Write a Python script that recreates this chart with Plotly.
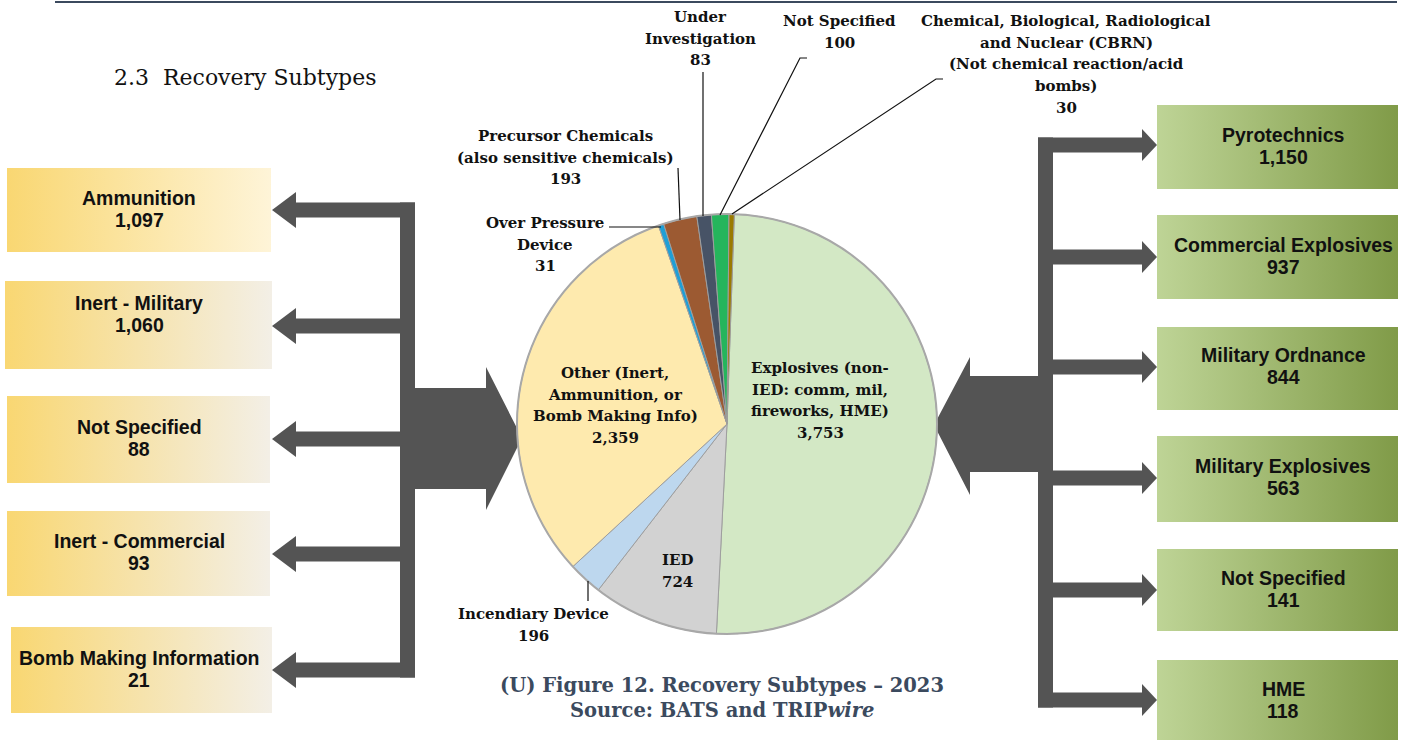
import plotly.graph_objects as go

# ---------------- data ----------------
pie_labels = [
    "Explosives (non-IED: comm, mil, fireworks, HME)",
    "IED",
    "Incendiary Device",
    "Other (Inert, Ammunition, or Bomb Making Info)",
    "Over Pressure Device",
    "Precursor Chemicals (also sensitive chemicals)",
    "Under Investigation",
    "Not Specified",
    "Chemical, Biological, Radiological and Nuclear (CBRN) (Not chemical reaction/acid bombs)",
]
pie_values = [3753, 724, 196, 2359, 31, 193, 83, 100, 30]
pie_label_lines = [
    ["Explosives (non-", "IED: comm, mil,", "fireworks, HME)"],
    ["IED"],
    ["Incendiary Device"],
    ["Other (Inert,", "Ammunition, or", "Bomb Making Info)"],
    ["Over Pressure", "Device"],
    ["Precursor Chemicals", "(also sensitive chemicals)"],
    ["Under", "Investigation"],
    ["Not Specified"],
    ["Chemical, Biological, Radiological", "and Nuclear (CBRN)",
     "(Not chemical reaction/acid", "bombs)"],
]
pie_colors = ["#d3e8c5", "#d2d2d2", "#bdd7ee", "#feeaae", "#1f9fd6",
              "#9c5a32", "#475366", "#25b55c", "#9a7a00"]

left_labels = ["Ammunition", "Inert - Military", "Not Specified",
               "Inert - Commercial", "Bomb Making Information"]
left_values = [1097, 1060, 88, 93, 21]

right_labels = ["Pyrotechnics", "Commercial Explosives", "Military Ordnance",
                "Military Explosives", "Not Specified", "HME"]
right_values = [1150, 937, 844, 563, 141, 118]

title_text = "2.3  Recovery Subtypes"
caption_lines = ["(U) Figure 12. Recovery Subtypes \u2013 2023",
                 "Source: BATS and TRIP<i>wire</i>"]

# ---------------- layout constants ----------------
W, H = 1416, 740
PCX, PCY, PR = 727, 424, 210
SERIF = "DejaVu Serif"
SANS = "Liberation Sans"
ARROW = "#545454"
NAVY = "#3b4a5e"

fig = go.Figure()

# left boxes
left_boxes = [(7, 271, 168, 252), (5, 272, 281, 369), (7, 270, 396, 483),
              (7, 270, 511, 596), (11, 272, 627, 713)]
left_text_y = [198, 303, 427, 541, 658]
for i, (x0, x1, y0, y1) in enumerate(left_boxes):
    right_c = "#fef4d8" if i == 0 else "#f3efe6"
    fig.add_trace(go.Scatter(
        x=[x0, x1, x1, x0, x0], y=[y0, y0, y1, y1, y0], mode="lines",
        fill="toself", line=dict(width=0),
        fillgradient=dict(type="horizontal",
                          colorscale=[[0, "#f9d772"], [1, right_c]]),
        hoverinfo="skip", showlegend=False))

# right boxes
right_boxes = [(105, 189), (215, 299), (327, 410), (436, 522), (549, 631), (660, 742)]
right_text_y = [135, 245, 355, 466, 578, 689]
for (y0, y1) in right_boxes:
    x0, x1 = 1157, 1398
    fig.add_trace(go.Scatter(
        x=[x0, x1, x1, x0, x0], y=[y0, y0, y1, y1, y0], mode="lines",
        fill="toself", line=dict(width=0),
        fillgradient=dict(type="horizontal",
                          colorscale=[[0, "#bed496"], [1, "#809b48"]]),
        hoverinfo="skip", showlegend=False))

# pie
fig.add_trace(go.Pie(
    labels=pie_labels, values=pie_values, sort=False, direction="clockwise",
    rotation=2, textinfo="none", showlegend=False,
    marker=dict(colors=pie_colors, line=dict(color="#9e9e9e", width=1)),
    domain=dict(x=[(PCX - PR) / W, (PCX + PR) / W],
                y=[(H - PCY - PR) / H, (H - PCY + PR) / H]),
    hoverinfo="label+value"))

shapes = []
# ---- left arrows ----
left_arrow_y = [210, 326, 439, 554, 670]
for cy in left_arrow_y:
    shapes.append(dict(type="path", layer="below", fillcolor=ARROW, line=dict(width=0),
                       xref="x", yref="y",
                       path=f"M 415 {cy-7.5} L 296 {cy-7.5} L 296 {cy-18} L 272 {cy} "
                            f"L 296 {cy+18} L 296 {cy+7.5} L 415 {cy+7.5} Z"))
shapes.append(dict(type="rect", layer="below", fillcolor=ARROW, line=dict(width=0),
                   xref="x", yref="y", x0=400, x1=415, y0=202.5, y1=677.5))
shapes.append(dict(type="path", layer="below", fillcolor=ARROW, line=dict(width=0),
                   xref="x", yref="y",
                   path="M 412 388 L 486 388 L 486 367 L 522 438 L 486 510 L 486 489 L 412 489 Z"))

# ---- right arrows ----
right_arrow_y = [145, 257, 367, 478, 590, 700]
for cy in right_arrow_y:
    shapes.append(dict(type="path", layer="below", fillcolor=ARROW, line=dict(width=0),
                       xref="x", yref="y",
                       path=f"M 1038 {cy-7.5} L 1142 {cy-7.5} L 1142 {cy-16} L 1157 {cy} "
                            f"L 1142 {cy+16} L 1142 {cy+7.5} L 1038 {cy+7.5} Z"))
shapes.append(dict(type="rect", layer="below", fillcolor=ARROW, line=dict(width=0),
                   xref="x", yref="y", x0=1038, x1=1053, y0=137.5, y1=707.5))
shapes.append(dict(type="path", layer="below", fillcolor=ARROW, line=dict(width=0),
                   xref="x", yref="y",
                   path="M 1041 376 L 970 376 L 970 357 L 934 425 L 970 495 L 970 472 L 1041 472 Z"))

# pie outer rim
shapes.append(dict(type="circle", layer="above", xref="x", yref="y",
                   x0=PCX - PR, x1=PCX + PR, y0=PCY - PR, y1=PCY + PR,
                   line=dict(color="#a8a8a8", width=2)))

# leader lines
def seg(pts):
    p = "M " + " L ".join(f"{x} {y}" for x, y in pts)
    return dict(type="path", layer="above", xref="x", yref="y", path=p,
                line=dict(color="#111111", width=1.2))

shapes += [
    seg([(609, 227), (661, 227)]),                 # over pressure
    seg([(678, 168), (680, 220)]),                 # precursor
    seg([(703, 72), (703, 216)]),                  # under investigation
    seg([(807, 58), (800, 58), (720, 215)]),       # not specified
    seg([(943, 79), (936, 79), (732, 214)]),       # CBRN
    seg([(588, 581), (588, 601)]),                 # incendiary
]

# top rule
shapes.append(dict(type="line", xref="x", yref="y", x0=55, x1=1397, y0=2, y1=2,
                   line=dict(color=NAVY, width=2)))

annotations = []

def txt(x, y, s, size, family, color="#111111", xanchor="center"):
    annotations.append(dict(x=x, y=y, xref="x", yref="y", text=s, showarrow=False,
                            xanchor=xanchor, yanchor="middle",
                            font=dict(size=size, family=family, color=color)))

# box text
BOX_FS = 19.5
for lab, val, ty in zip(left_labels, left_values, left_text_y):
    txt(139, ty, f"<b>{lab}</b>", BOX_FS, SANS)
    txt(139, ty + 22, f"<b>{val:,}</b>", BOX_FS, SANS)
for lab, val, ty in zip(right_labels, right_values, right_text_y):
    txt(1283, ty, f"<b>{lab}</b>", BOX_FS, SANS)
    txt(1283, ty + 22, f"<b>{val:,}</b>", BOX_FS, SANS)

# pie labels
pie_label_pos = [(820, 368), (677, 560), (533, 614), (615, 373), (545, 223),
                 (565, 136), (700, 17), (839, 21), (1066, 21)]
LS = 21.7
for lines, val, (lx, ly) in zip(pie_label_lines, pie_values, pie_label_pos):
    for k, s in enumerate(lines + [f"{val:,}"]):
        txt(lx, ly + k * LS, f"<b>{s}</b>", 15, SERIF)

# title and caption
txt(112, 77, title_text, 22, SERIF, color="#111111", xanchor="left")
txt(722, 685, f"<b>{caption_lines[0]}</b>", 19.5, SERIF, color=NAVY)
txt(722, 710, f"<b>{caption_lines[1]}</b>", 19.5, SERIF, color=NAVY)

fig.update_layout(
    width=W, height=H, margin=dict(l=0, r=0, t=0, b=0),
    paper_bgcolor="white", plot_bgcolor="white", showlegend=False,
    xaxis=dict(range=[0, W], visible=False, fixedrange=True),
    yaxis=dict(range=[H, 0], visible=False, fixedrange=True),
    shapes=shapes, annotations=annotations,
)

fig.write_html("out.html", config={"displayModeBar": False},
               post_script="document.body.style.margin='0';")
